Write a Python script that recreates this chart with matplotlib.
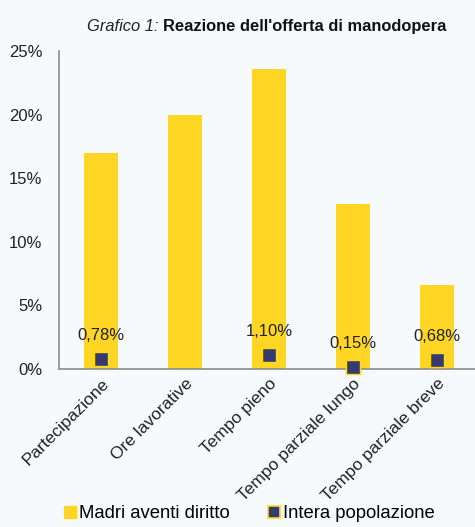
import matplotlib.pyplot as plt
import numpy as np
from matplotlib.lines import Line2D

plt.rcParams['font.family'] = ['Liberation Sans', 'DejaVu Sans']

# Data
categories = ['Partecipazione', 'Ore lavorative', 'Tempo pieno',
              'Tempo parziale lungo', 'Tempo parziale breve']
madri = [17.0, 20.0, 23.6, 13.0, 6.6]
intera = [0.78, np.nan, 1.10, 0.15, 0.68]
intera_labels = ['0,78%', '', '1,10%', '0,15%', '0,68%']
yticks = [0, 5, 10, 15, 20, 25]

bg = '#F6FAFD'
yellow = '#FFD624'
navy = '#353B6E'

fig = plt.figure(figsize=(4.75, 5.27), dpi=100, facecolor=bg)
ax = fig.add_axes([59 / 475, 158 / 527, 416 / 475, 318 / 527], facecolor=bg)

x = np.arange(len(categories))
ax.bar(x, madri, width=0.4, color=yellow, zorder=2)
ax.scatter(x, intera, marker='s', s=110, color=navy, edgecolors=yellow,
           linewidths=1, zorder=3, clip_on=False)

for xi, val, lab in zip(x, intera, intera_labels):
    if lab:
        ax.annotate(lab, (xi, val), xytext=(0, 17), textcoords='offset points',
                    ha='center', va='center', fontsize=12, color='#222222')

ax.set_xlim(-0.5, -0.5 + 416 / 84)
ax.set_ylim(0, 25)
ax.set_yticks(yticks)
ax.set_yticklabels([f'{t}%' for t in yticks], fontsize=12, color='#222222')
ax.set_xticks(x)
ax.set_xticklabels(categories, rotation=45, ha='right', va='top',
                   rotation_mode='anchor', fontsize=12.5, color='#222222')
ax.tick_params(axis='y', length=0, pad=12)
ax.tick_params(axis='x', length=0, pad=5)

for s in ['top', 'right']:
    ax.spines[s].set_visible(False)
for s in ['left', 'bottom']:
    ax.spines[s].set_color('#8C8C8C')
    ax.spines[s].set_linewidth(1.2)

# Title: italic prefix + bold rest
fig.text(0.343, 0.949, 'Grafico 1: ', fontsize=11.9, style='italic',
         ha='right', va='center', color='#222222')
fig.text(0.343, 0.949, "Reazione dell'offerta di manodopera", fontsize=11.9,
         fontweight='bold', ha='left', va='center', color='#111111')

handles = [
    Line2D([], [], marker='s', linestyle='none', markersize=8,
           markerfacecolor=yellow, markeredgecolor=yellow),
    Line2D([], [], marker='s', linestyle='none', markersize=8,
           markerfacecolor=navy, markeredgecolor=yellow, markeredgewidth=1.2),
]
fig.legend(handles, ['Madri aventi diritto', 'Intera popolazione'],
           loc='lower center', bbox_to_anchor=(0.522, -0.022), ncol=2,
           frameon=False, fontsize=13.3, handletextpad=0.0, columnspacing=1.9,
           handlelength=1.0)

fig.savefig('out.png', dpi=100, facecolor=bg)
